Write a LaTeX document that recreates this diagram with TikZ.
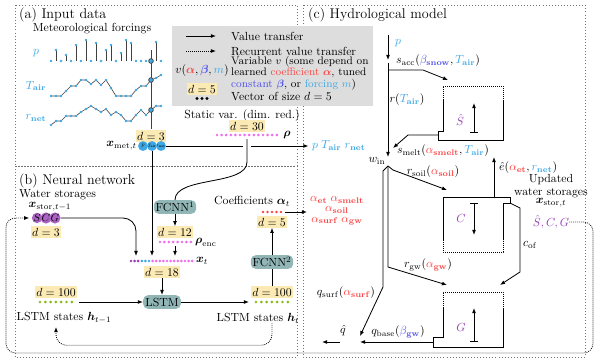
\documentclass[tikz,border=0pt]{standalone}
\usepackage{amsmath}
\usetikzlibrary{arrows.meta}

\definecolor{forcblue}{RGB}{62,168,228}
\definecolor{coefred}{RGB}{250,70,70}
\definecolor{constblue}{RGB}{80,80,235}
\definecolor{storpurple}{RGB}{150,60,180}
\definecolor{statpink}{RGB}{238,110,238}
\definecolor{hidgreen}{RGB}{135,185,20}
\definecolor{dimyellow}{RGB}{252,234,180}
\definecolor{nnteal}{RGB}{146,182,182}
\definecolor{legendgray}{RGB}{221,221,221}

\begin{document}
\begin{tikzpicture}[
    x=0.85pt, y=-0.85pt,
    >={Latex[length=4.3pt,width=3.3pt]},
    panel/.style={draw=black!55, dotted, line width=0.6pt},
    paneltitle/.style={font=\large, anchor=west, inner sep=0pt},
    txt/.style={inner sep=0pt},
    flow/.style={->, line width=0.7pt},
    recur/.style={->, line width=0.7pt, densely dotted},
    wall/.style={line width=0.7pt},
    openwall/.style={line width=0.7pt, densely dotted},
    dimbox/.style={fill=dimyellow, inner sep=1.3pt},
    nnbox/.style={rectangle, rounded corners=4pt, fill=nnteal, minimum width=32pt, minimum height=11.5pt, inner sep=1.5pt},
    bubble/.style={circle, minimum size=8.4pt, inner sep=0pt},
    series/.style={black!75, line width=0.5pt},
    storarrow/.style={{Bar[width=6pt]}-{Latex[length=4.3pt,width=3.3pt]}, line width=0.7pt}
]
\useasboundingbox (0,0) rectangle (600,363);

% ===== PANEL FRAMES =====
\draw[panel] (15,5) rectangle (297,166);
\draw[panel] (15,166) rectangle (297,357);
\draw[panel] (303,5) rectangle (585,357);

% ===== (a) INPUT DATA =====
\node[paneltitle] (ttl_a) at (19,15) {(a) Input data};
\node[txt] (ttl_met) at (92,29) {Meteorological forcings};

\node[txt, text=forcblue] (lbl_p) at (36,53) {$p$};
\node[txt, text=forcblue] (lbl_tair) at (36,86) {$T_{\mathbf{air}}$};
\node[txt, text=forcblue] (lbl_rnet) at (36,118) {$r_{\mathbf{net}}$};

% precipitation (stems)
\foreach \v [count=\i from 0] in {61,50,61,55,61,45,61,40,61,43,61,50,45,61,53,40,43,61,61,61,61,42,61} {
  \draw[series] (51+5*\i,61) -- (51+5*\i,\v);
  \fill[forcblue] (51+5*\i,\v) circle (1.25pt);
}

% air temperature
\draw[series] (51,96) \foreach \v [count=\i] in {96,96,91,86,86,80,80,84,80,85,80,88,96,96,96,96,90,86,86,80,78,75} { -- (51+5*\i,\v) };
\foreach \v [count=\i from 0] in {96,96,96,91,86,86,80,80,84,80,85,80,88,96,96,96,96,90,86,86,80,78,75}
  \fill[forcblue] (51+5*\i,\v) circle (1.25pt);

% net radiation
\draw[series] (51,125) \foreach \v [count=\i] in {121,121,116,116,116,112,109,106,109,112,109,115,112,115,121,121,115,110,115,110,106,106} { -- (51+5*\i,\v) };
\foreach \v [count=\i from 0] in {125,121,121,116,116,116,112,109,106,109,112,109,115,112,115,121,121,115,110,115,110,106,106}
  \fill[forcblue] (51+5*\i,\v) circle (1.25pt);

% current time step
\draw[series, line width=0.7pt] (151,50) -- (151,129);
\foreach \v in {61,80,110}
  \draw[black!75, fill=forcblue, line width=0.6pt] (151,\v) circle (2pt);

\node[dimbox] (dim_met) at (151,136) {$d=3$};
\node[bubble, fill=forcblue] (met_p) at (143,146) {\scalebox{0.5}{$p$}};
\node[bubble, fill=forcblue] (met_t) at (152,146) {\scalebox{0.4}{$T_{\mathbf{air}}$}};
\node[bubble, fill=forcblue] (met_r) at (161,146) {\scalebox{0.4}{$r_{\mathbf{net}}$}};
\node[txt, anchor=east] (lbl_xmet) at (137,146) {$\boldsymbol{x}_{\mathrm{met},t}$};

% static variables
\node[txt] (lbl_static) at (242,116) {Static var. (dim. red.)};
\node[dimbox] (dim_stat) at (247,126) {$d=30$};
\foreach \k in {0,...,13}
  \fill[statpink] (217+4.6*\k,135) circle (1.25pt);
\node[txt] (lbl_rho) at (287,135) {$\boldsymbol{\rho}$};
\coordinate (rho_out) at (247,139);

% forcings passed to the model
\coordinate (hop_l) at (243,146);
\coordinate (hop_r) at (251,146);
\node[txt, anchor=west, text=forcblue] (lbl_force) at (312,146) {$p\;T_{\mathbf{air}}\;r_{\mathbf{net}}$};
\draw[wall] (met_r.east) -- (hop_l);
\draw[flow] (hop_r) -- ([xshift=-3pt]lbl_force.west);

% ===== LEGEND =====
\fill[legendgray] (172,26) rectangle (373,106);
\coordinate (leg_a1) at (186,36);
\coordinate (leg_a2) at (216,36);
\coordinate (leg_r1) at (186,51);
\coordinate (leg_r2) at (216,51);
\draw[flow] (leg_a1) -- (leg_a2);
\draw[recur] (leg_r1) -- (leg_r2);
\node[txt, anchor=west] (leg_val) at (231,36) {Value transfer};
\node[txt, anchor=west] (leg_rec) at (231,51) {Recurrent value transfer};
\node[txt] (leg_v) at (202,71) {$v(\textcolor{coefred}{\boldsymbol{\alpha}}, \textcolor{constblue}{\boldsymbol{\beta}}, \textcolor{forcblue}{m})$};
\node[txt, anchor=west, align=left, font=\fontsize{9.3}{7.3}\selectfont] (leg_var) at (231,73) {Variable $v$ (some depend on\\
learned \textcolor{coefred}{coefficient $\boldsymbol{\alpha}$}, tuned\\
\textcolor{constblue}{constant $\boldsymbol{\beta}$}, or \textcolor{forcblue}{forcing $m$})};
\node[dimbox] (leg_dim) at (202,89) {$d=5$};
\foreach \k in {-1,0,1}
  \fill (202+5*\k,98.5) circle (1.4pt);
\node[txt, anchor=west] (leg_vec) at (231,96) {Vector of size $d=5$};

% ===== (b) NEURAL NETWORK =====
\node[paneltitle] (ttl_b) at (19,181) {(b) Neural network};
\node[txt, anchor=west] (ttl_ws) at (19,195) {Water storages};
\node[txt] (lbl_xstor) at (50,207) {$\boldsymbol{x}_{\mathrm{stor},t-1}$};
\node[bubble, fill=storpurple!80, font=\small] (stor_s) at (37,218) {$S$};
\node[bubble, fill=storpurple!80, font=\small] (stor_c) at (46,218) {$C$};
\node[bubble, fill=storpurple!80, font=\small] (stor_g) at (55,218) {$G$};
\node[dimbox] (dim_stor) at (46,232) {$d=3$};

% static encoder
\node[nnbox] (fcnn1) at (175,207) {FCNN$^1$};
\node[dimbox] (dim_enc) at (175,232) {$d=12$};
\foreach \k in {0,...,7}
  \fill[statpink] (160+4.4*\k,242) circle (1.25pt);
\node[txt, anchor=west] (lbl_enc) at (195,242) {$\boldsymbol{\rho}_{\mathrm{enc}}$};
\coordinate (enc_out) at (175,246);

% input vector
\foreach \k in {0,1,2}
  \fill[storpurple] (131+3.6*\k,261) circle (1.25pt);
\foreach \k in {3,4,5}
  \fill[forcblue] (131+3.6*\k,261) circle (1.25pt);
\foreach \k in {6,...,17}
  \fill[statpink] (131+3.6*\k,261) circle (1.25pt);
\node[txt, anchor=west] (lbl_xt) at (196,261) {$\boldsymbol{x}_t$};
\coordinate (xt_stor) at (136,256);
\coordinate (xt_met) at (152,256);
\coordinate (xt_enc) at (175,256);
\node[dimbox] (dim_xt) at (162,272) {$d=18$};

\draw[wall] (rho_out) -- (247,162) .. controls (247,186) and (175,176) .. (fcnn1.north);
\draw[flow] (fcnn1.south) -- (dim_enc.north);
\draw[flow] (enc_out) -- (xt_enc);
\draw[flow] (met_t.south) -- (xt_met);
\draw[flow, rounded corners=11pt] (stor_g.east) -| (xt_stor);

% LSTM
\node[nnbox] (lstm) at (162,302) {LSTM};
\draw[flow] (dim_xt.south) -- (lstm.north);

\node[dimbox] (dim_hprev) at (56,292) {$d=100$};
\foreach \k in {0,...,6}
  \fill[hidgreen] (40+5.3*\k,302) circle (1.25pt);
\node[txt] (lbl_hprev) at (64,318) {LSTM states $\boldsymbol{h}_{t-1}$};
\coordinate (hprev_out) at (79,302);
\coordinate (hprev_back) at (56,327);
\draw[flow] (hprev_out) -- (lstm.west);

\node[dimbox] (dim_hnext) at (272,292) {$d=100$};
\foreach \k in {0,...,6}
  \fill[hidgreen] (256+5.3*\k,302) circle (1.25pt);
\node[txt] (lbl_hnext) at (258,318) {LSTM states $\boldsymbol{h}_t$};
\coordinate (hnext_in) at (249,302);
\draw[flow] (lstm.east) -- (hnext_in);

% coefficient head
\node[nnbox] (fcnn2) at (272,262) {FCNN$^2$};
\node[dimbox] (dim_coef) at (272,222) {$d=5$};
\foreach \k in {0,...,4}
  \fill[coefred] (263+4.5*\k,212) circle (1.25pt);
\node[txt] (lbl_coef) at (252,201) {Coefficients $\boldsymbol{\alpha}_t$};
\coordinate (coef_out) at (285,212);
\coordinate (coef_tip) at (307,212);
\node[txt, text=coefred, align=center, font=\fontsize{10}{8.8}\selectfont] (lbl_coefs) at (337,211) {$\alpha_{\mathbf{et}}\;\alpha_{\mathbf{smelt}}$\\ $\alpha_{\mathbf{soil}}$\\ $\alpha_{\mathbf{surf}}\;\alpha_{\mathbf{gw}}$};
\draw[wall] (dim_hnext.north) -- (fcnn2.south);
\draw[flow] (fcnn2.north) -- (dim_coef.south);
\draw[flow] (coef_out) -- (coef_tip);

% recurrent states
\draw[recur, rounded corners=9pt] (lbl_hnext.south -| fcnn2.south) -- ++(0,22) -| (hprev_back);

% ===== (c) HYDROLOGICAL MODEL =====
\node[paneltitle] (ttl_c) at (308,15) {(c) Hydrological model};

% precipitation split
\coordinate (p_src) at (388,35);
\coordinate (p_tip) at (388,60);
\coordinate (acc_split) at (388,63);
\coordinate (acc_turn) at (388,70);
\coordinate (acc_knee) at (423,70);
\coordinate (snow_in) at (448,80);
\coordinate (win_top) at (388,157);
\node[txt, text=forcblue] (lbl_pc) at (398,43) {$p$};
\draw[flow] (p_src) -- (p_tip);
\draw[flow] (acc_split) -- (win_top);
\draw[flow] (acc_turn) -- (acc_knee) -- (snow_in);
\node[txt] (lbl_acc) at (438,61) {$s_{\mathrm{acc}}(\textcolor{constblue}{\beta_{\mathbf{snow}}}, \textcolor{forcblue}{T_{\mathbf{air}}})$};
\node[txt] (lbl_rain) at (407,100) {$r(\textcolor{forcblue}{T_{\mathbf{air}}})$};

% snow storage
\draw[openwall] (443,100) -- (443,86) -- (503,86) -- (503,100);
\draw[wall] (443,100) -- (443,131) -- (438,131) -- (438,140) -- (503,140) -- (503,100);
\draw[storarrow] (474,133) -- (474,103);
\node[txt, text=storpurple] (lbl_snow) at (460,120) {$\hat{S}$};
\coordinate (melt_out) at (438,135);
\coordinate (win_melt) at (393,148);
\draw[flow] (melt_out) -- (408,135) -- (win_melt);
\node[txt] (lbl_melt) at (443,151) {$s_{\mathrm{melt}}(\textcolor{coefred}{\alpha_{\mathbf{smelt}}}, \textcolor{forcblue}{T_{\mathbf{air}}})$};

% water input split
\coordinate (win) at (388,166);
\coordinate (soil_in) at (447,190);
\coordinate (gw_in) at (447,285);
\coordinate (surf_in) at (360,336);
\node[txt] (lbl_win) at (377,161) {$w_{\mathrm{in}}$};
\draw[flow] (win) -- (393,170) -- (soil_in);
\draw[flow] (win) -- (388,267) -- (gw_in);
\draw[flow] (win) -- (383,171) -- (383,287) -- (surf_in);
\node[txt] (lbl_soilin) at (433,172) {$r_{\mathrm{soil}}(\textcolor{coefred}{\alpha_{\mathbf{soil}}})$};
\node[txt] (lbl_gwin) at (428,265) {$r_{\mathrm{gw}}(\textcolor{coefred}{\alpha_{\mathbf{gw}}})$};
\node[txt] (lbl_surf) at (346,293) {$q_{\mathrm{surf}}(\textcolor{coefred}{\alpha_{\mathbf{surf}}})$};

% soil storage
\draw[wall] (443,240) -- (443,197) -- (510,197) -- (510,203) -- (503,203) -- (503,240);
\draw[openwall] (443,240) -- (443,252) -- (503,252) -- (503,240);
\draw[storarrow] (474,203) -- (474,235);
\node[txt, text=storpurple] (lbl_soil) at (461,218) {$C$};
\coordinate (et_out) at (494,197);
\coordinate (et_tip) at (494,157);
\draw[flow] (et_out) -- (et_tip);
\node[txt, anchor=west] (lbl_et) at (499,168) {$\hat{e}(\textcolor{coefred}{\alpha_{\mathbf{et}}}, \textcolor{forcblue}{r_{\mathbf{net}}})$};
\coordinate (of_out) at (510,203);
\coordinate (gw_in_of) at (500,285);
\draw[flow] (of_out) -- (520,208) -- (520,272) -- (gw_in_of);
\node[txt] (lbl_of) at (530,245) {$c_{\mathrm{of}}$};

% groundwater storage
\draw[openwall] (443,308) -- (443,292) -- (503,292) -- (503,308);
\draw[wall] (443,308) -- (443,337) -- (433,337) -- (433,347) -- (503,347) -- (503,308);
\draw[storarrow] (474,342) -- (474,308);
\node[txt, text=storpurple] (lbl_gw) at (461,327) {$G$};
\coordinate (base_out) at (433,342);
\coordinate (base_tip) at (360,342);
\draw[flow] (base_out) -- (base_tip);
\node[txt] (lbl_base) at (398,332) {$q_{\mathrm{base}}(\textcolor{constblue}{\beta_{\mathbf{gw}}})$};

% streamflow
\coordinate (qhat_src) at (340,342);
\coordinate (qhat_tip) at (322,342);
\draw[flow] (qhat_src) -- (qhat_tip);
\node[txt] (lbl_qhat) at (343,331) {$\hat{q}$};

% updated storages
\node[txt, align=center, font=\fontsize{10}{11}\selectfont] (lbl_upd) at (551,186) {Updated\\ water storages};
\node[txt] (lbl_xnew) at (551,203) {$\boldsymbol{x}_{\mathrm{stor},t}$};
\node[txt, text=storpurple] (lbl_scgnew) at (551,222) {$\hat{S}, C, G$};
\draw[recur, rounded corners=8pt, shorten >=2pt] (lbl_scgnew.east) -- (593,222) -- (593,353) -- (6,353) -- (6,218) -- (stor_s.west);

\end{tikzpicture}
\end{document}
